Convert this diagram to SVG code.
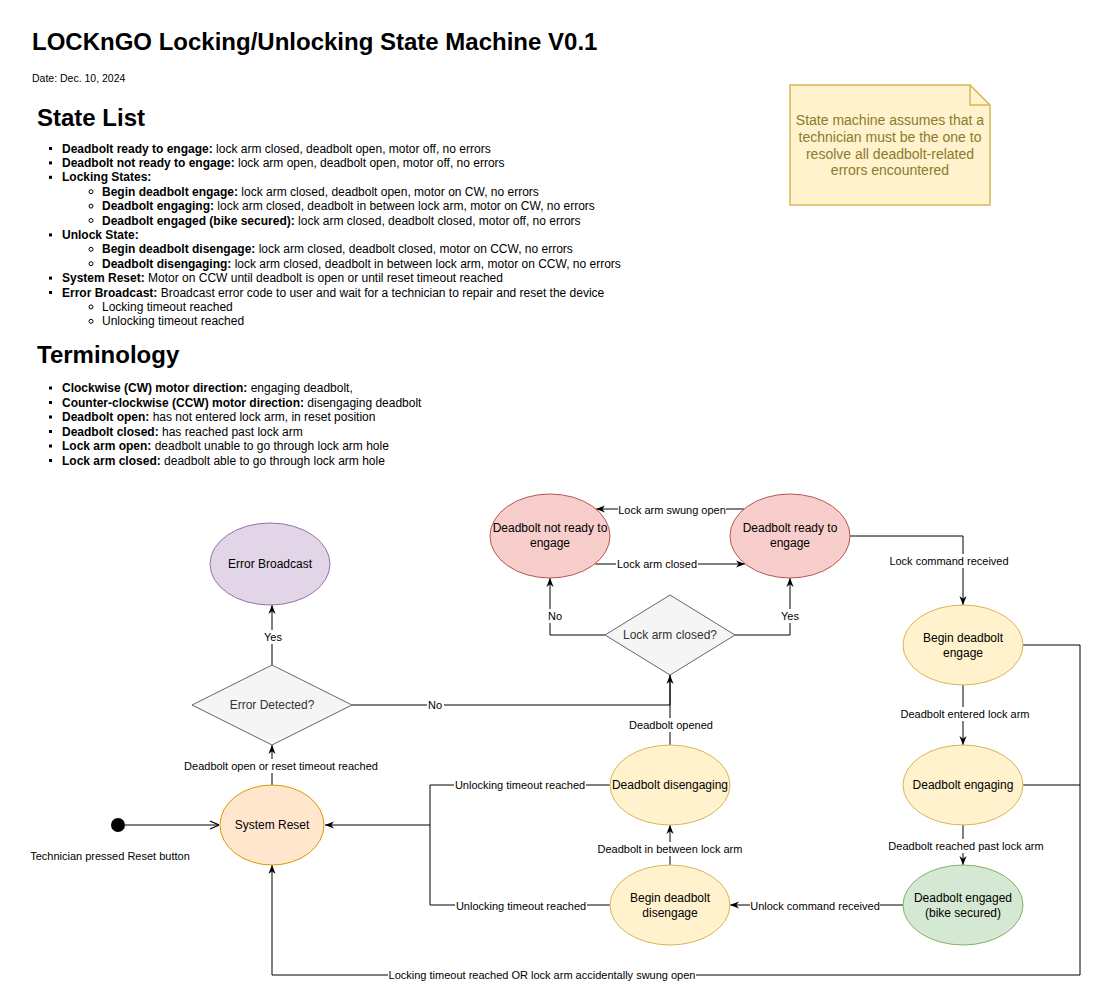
<svg xmlns="http://www.w3.org/2000/svg" width="1109" height="1004" viewBox="0 0 1109 1004">
<defs>
<style>
text{font-family:"Liberation Sans",Arial,sans-serif;fill:#000}
.title{font-size:24px;font-weight:bold}
.h{font-size:24px;font-weight:bold}
.li{font-size:12px}
.b{font-weight:bold}
.nt{font-size:12px;text-anchor:middle}
.el{font-size:11px;text-anchor:middle}
.lbg{fill:#fff}
.edge{fill:none;stroke:#000;stroke-width:1}
.sq{fill:#000}
.ci{fill:none;stroke:#000;stroke-width:1}
.red{fill:#f8cecc;stroke:#b85450}
.yel{fill:#fff2cc;stroke:#d6b656}
.grn{fill:#d5e8d4;stroke:#82b366}
.pur{fill:#e1d5e7;stroke:#9673a6}
.ora{fill:#ffe6cc;stroke:#d79b00}
.dia{fill:#f5f5f5;stroke:#666666}
.dt{fill:#333333}
</style>
<marker id="arr" viewBox="0 0 10 10" markerUnits="userSpaceOnUse" markerWidth="9" markerHeight="9" refX="10" refY="5" orient="auto">
<path d="M0,1 L10,5 L0,9 L3,5 Z" fill="#000"/>
</marker>
<marker id="open" viewBox="0 0 10 10" markerUnits="userSpaceOnUse" markerWidth="10" markerHeight="10" refX="10" refY="5" orient="auto">
<path d="M1,1 L10,5 L1,9" fill="none" stroke="#000" stroke-width="1.2"/>
</marker>
</defs>
<rect width="1109" height="1004" fill="#fff"/>

<g id="header">
<text class="title" x="32" y="50">LOCKnGO Locking/Unlocking State Machine V0.1</text>
<text x="32" y="82" style="font-size:10.5px">Date: Dec. 10, 2024</text>
</g>

<g id="state-list">
<text class="h" x="37" y="126">State List</text>
<rect class="sq" x="49" y="147" width="3" height="3"/>
<text class="li" x="62" y="152.5"><tspan class="b">Deadbolt ready to engage:</tspan> lock arm closed, deadbolt open, motor off, no errors</text>
<rect class="sq" x="49" y="161.4" width="3" height="3"/>
<text class="li" x="62" y="166.9"><tspan class="b">Deadbolt not ready to engage:</tspan> lock arm open, deadbolt open, motor off, no errors</text>
<rect class="sq" x="49" y="175.8" width="3" height="3"/>
<text class="li" x="62" y="181.3"><tspan class="b">Locking States:</tspan></text>
<circle class="ci" cx="91" cy="191.7" r="2"/>
<text class="li" x="102" y="195.7"><tspan class="b">Begin deadbolt engage:</tspan> lock arm closed, deadbolt open, motor on CW, no errors</text>
<circle class="ci" cx="91" cy="206.1" r="2"/>
<text class="li" x="102" y="210.1"><tspan class="b">Deadbolt engaging:</tspan> lock arm closed, deadbolt in between lock arm, motor on CW, no errors</text>
<circle class="ci" cx="91" cy="220.5" r="2"/>
<text class="li" x="102" y="224.5"><tspan class="b">Deadbolt engaged (bike secured):</tspan> lock arm closed, deadbolt closed, motor off, no errors</text>
<rect class="sq" x="49" y="233.4" width="3" height="3"/>
<text class="li" x="62" y="238.9"><tspan class="b">Unlock State:</tspan></text>
<circle class="ci" cx="91" cy="249.3" r="2"/>
<text class="li" x="102" y="253.3"><tspan class="b">Begin deadbolt disengage:</tspan> lock arm closed, deadbolt closed, motor on CCW, no errors</text>
<circle class="ci" cx="91" cy="263.7" r="2"/>
<text class="li" x="102" y="267.7"><tspan class="b">Deadbolt disengaging:</tspan> lock arm closed, deadbolt in between lock arm, motor on CCW, no errors</text>
<rect class="sq" x="49" y="276.6" width="3" height="3"/>
<text class="li" x="62" y="282.1"><tspan class="b">System Reset:</tspan> Motor on CCW until deadbolt is open or until reset timeout reached</text>
<rect class="sq" x="49" y="291" width="3" height="3"/>
<text class="li" x="62" y="296.5"><tspan class="b">Error Broadcast:</tspan> Broadcast error code to user and wait for a technician to repair and reset the device</text>
<circle class="ci" cx="91" cy="306.9" r="2"/>
<text class="li" x="102" y="310.9">Locking timeout reached</text>
<circle class="ci" cx="91" cy="321.3" r="2"/>
<text class="li" x="102" y="325.3">Unlocking timeout reached</text>
</g>

<g id="terminology">
<text class="h" x="37" y="363">Terminology</text>
<rect class="sq" x="49" y="386.5" width="3" height="3"/>
<text class="li" x="62" y="392">
<tspan class="b">Clockwise (CW) motor direction:</tspan> engaging deadbolt,</text>
<rect class="sq" x="49" y="401" width="3" height="3"/>
<text class="li" x="62" y="406.5"><tspan class="b">Counter-clockwise (CCW) motor direction:</tspan> disengaging deadbolt</text>
<rect class="sq" x="49" y="415.5" width="3" height="3"/>
<text class="li" x="62" y="421"><tspan class="b">Deadbolt open:</tspan> has not entered lock arm, in reset position</text>
<rect class="sq" x="49" y="430" width="3" height="3"/>
<text class="li" x="62" y="435.5"><tspan class="b">Deadbolt closed:</tspan> has reached past lock arm</text>
<rect class="sq" x="49" y="444.5" width="3" height="3"/>
<text class="li" x="62" y="450"><tspan class="b">Lock arm open:</tspan> deadbolt unable to go through lock arm hole</text>
<rect class="sq" x="49" y="459" width="3" height="3"/>
<text class="li" x="62" y="464.5"><tspan class="b">Lock arm closed:</tspan> deadbolt able to go through lock arm hole</text>
</g>

<g id="note">
<path d="M790,85 H970 L990,105 V205 H790 Z" fill="#fff2cc" stroke="#d6b656" stroke-width="1.5"/>
<path d="M970,85 V105 H990" fill="none" stroke="#d6b656" stroke-width="1.5"/>
<text x="890" y="125" style="font-size:14px;text-anchor:middle;fill:#8c7b2d">State machine assumes that a</text>
<text x="890" y="142" style="font-size:14px;text-anchor:middle;fill:#8c7b2d">technician must be the one to</text>
<text x="890" y="159" style="font-size:14px;text-anchor:middle;fill:#8c7b2d">resolve all deadbolt-related</text>
<text x="890" y="175" style="font-size:14px;text-anchor:middle;fill:#8c7b2d">errors encountered</text>
</g>

<g id="connectors">
<polyline class="edge" points="125,825 219,825" marker-end="url(#open)"/>
<polyline class="edge" points="272,785 272,745" marker-end="url(#arr)"/>
<polyline class="edge" points="272,665 272,605" marker-end="url(#arr)"/>
<polyline class="edge" points="352,705 670,705 670,675" marker-end="url(#arr)"/>
<polyline class="edge" points="670,745 670,675"/>
<polyline class="edge" points="605,635 550,635 550,578" marker-end="url(#arr)"/>
<polyline class="edge" points="735,635 790,635 790,578" marker-end="url(#arr)"/>
<polyline class="edge" points="744,509 596,509" marker-end="url(#arr)"/>
<polyline class="edge" points="595,564 745,564" marker-end="url(#arr)"/>
<polyline class="edge" points="850,536 963,536 963,605" marker-end="url(#arr)"/>
<polyline class="edge" points="963,685 963,745" marker-end="url(#arr)"/>
<polyline class="edge" points="963,825 963,865" marker-end="url(#arr)"/>
<polyline class="edge" points="903,905 730,905" marker-end="url(#arr)"/>
<polyline class="edge" points="670,865 670,825" marker-end="url(#arr)"/>
<polyline class="edge" points="610,785 430,785 430,825 325,825" marker-end="url(#arr)"/>
<polyline class="edge" points="610,905 430,905 430,825"/>
<polyline class="edge" points="1023,645 1080,645 1080,975 272,975 272,865" marker-end="url(#arr)"/>
<polyline class="edge" points="1023,785 1080,785"/>

<rect class="lbg" x="183" y="759" width="197" height="14"/>
<text class="el" x="281" y="770">Deadbolt open or reset timeout reached</text>
<rect class="lbg" x="262" y="630" width="22" height="14"/>
<text class="el" x="273" y="641">Yes</text>
<rect class="lbg" x="427" y="698" width="17" height="14"/>
<text class="el" x="435" y="709">No</text>
<rect class="lbg" x="547" y="609" width="17" height="14"/>
<text class="el" x="555" y="620">No</text>
<rect class="lbg" x="779" y="609" width="22" height="14"/>
<text class="el" x="790" y="620">Yes</text>
<rect class="lbg" x="618" y="503" width="108" height="14"/>
<text class="el" x="672" y="514">Lock arm swung open</text>
<rect class="lbg" x="616" y="557" width="82" height="14"/>
<text class="el" x="657" y="568">Lock arm closed</text>
<rect class="lbg" x="888" y="554" width="122" height="14"/>
<text class="el" x="949" y="565">Lock command received</text>
<rect class="lbg" x="899" y="707" width="132" height="14"/>
<text class="el" x="965" y="718">Deadbolt entered lock arm</text>
<rect class="lbg" x="888" y="839" width="157" height="14"/>
<text class="el" x="966" y="850">Deadbolt reached past lock arm</text>
<rect class="lbg" x="750" y="899" width="130" height="14"/>
<text class="el" x="815" y="910">Unlock command received</text>
<rect class="lbg" x="596" y="842" width="148" height="14"/>
<text class="el" x="670" y="853">Deadbolt in between lock arm</text>
<rect class="lbg" x="628" y="718" width="86" height="14"/>
<text class="el" x="671" y="729">Deadbolt opened</text>
<rect class="lbg" x="454" y="778" width="132" height="14"/>
<text class="el" x="520" y="789">Unlocking timeout reached</text>
<rect class="lbg" x="455" y="899" width="132" height="14"/>
<text class="el" x="521" y="910">Unlocking timeout reached</text>
<rect class="lbg" x="388" y="968" width="308" height="14"/>
<text class="el" x="542" y="979">Locking timeout reached OR lock arm accidentally swung open</text>
</g>

<g id="start">
<circle cx="118" cy="825" r="7" fill="#000"/>
<text class="el" x="110" y="860">Technician pressed Reset button</text>
</g>

<g id="error-broadcast">
<ellipse class="pur" cx="270" cy="564" rx="60" ry="41"/>
<text class="nt" x="270" y="568">Error Broadcast</text>
</g>

<g id="error-detected">
<polygon class="dia" points="272,665 352,705 272,745 192,705"/>
<text class="nt dt" x="272" y="709">Error Detected?</text>
</g>

<g id="system-reset">
<ellipse class="ora" cx="272" cy="825" rx="52" ry="40"/>
<text class="nt" x="272" y="829">System Reset</text>
</g>

<g id="not-ready">
<ellipse class="red" cx="550" cy="536" rx="60" ry="42"/>
<text class="nt" x="550" y="532">Deadbolt not ready to</text>
<text class="nt" x="550" y="547">engage</text>
</g>

<g id="ready">
<ellipse class="red" cx="790" cy="536" rx="60" ry="42"/>
<text class="nt" x="790" y="532">Deadbolt ready to</text>
<text class="nt" x="790" y="547">engage</text>
</g>

<g id="lock-arm-closed">
<polygon class="dia" points="670,595 735,635 670,675 605,635"/>
<text class="nt dt" x="670" y="639">Lock arm closed?</text>
</g>

<g id="begin-engage">
<ellipse class="yel" cx="963" cy="645" rx="60" ry="40"/>
<text class="nt" x="963" y="642">Begin deadbolt</text>
<text class="nt" x="963" y="657">engage</text>
</g>

<g id="engaging">
<ellipse class="yel" cx="963" cy="785" rx="60" ry="40"/>
<text class="nt" x="963" y="789">Deadbolt engaging</text>
</g>

<g id="engaged">
<ellipse class="grn" cx="963" cy="905" rx="60" ry="40"/>
<text class="nt" x="963" y="902">Deadbolt engaged</text>
<text class="nt" x="963" y="917">(bike secured)</text>
</g>

<g id="disengaging">
<ellipse class="yel" cx="670" cy="785" rx="60" ry="40"/>
<text class="nt" x="670" y="789">Deadbolt disengaging</text>
</g>

<g id="begin-disengage">
<ellipse class="yel" cx="670" cy="905" rx="60" ry="40"/>
<text class="nt" x="670" y="902">Begin deadbolt</text>
<text class="nt" x="670" y="917">disengage</text>
</g>
</svg>
